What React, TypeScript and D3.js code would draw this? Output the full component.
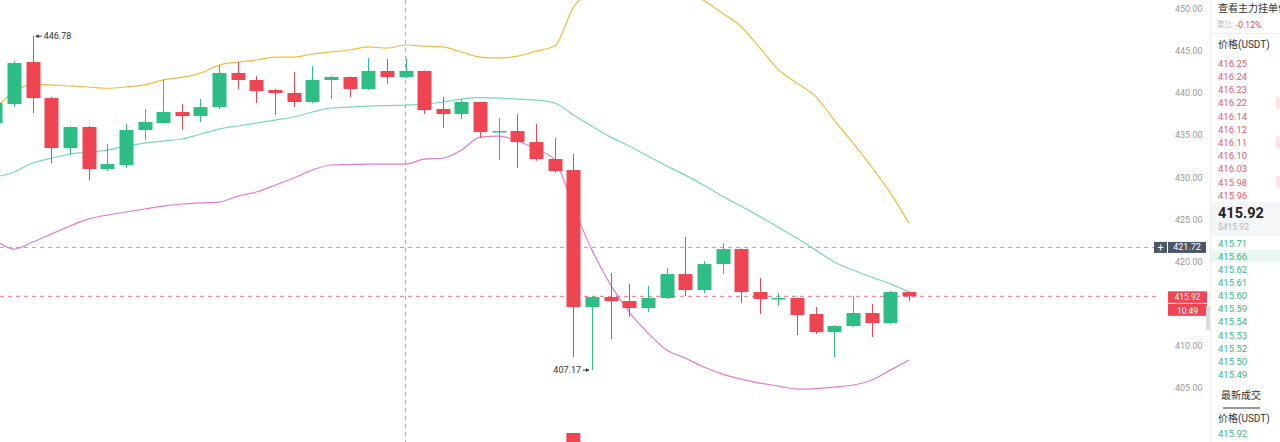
import React from "react";
import * as d3 from "d3";

// ---- candle data (index -1 .. 48) ----
const opens = [436.48, 438.73, 443.71, 439.44, 433.51, 436.0, 431.02, 431.49, 435.65, 436.48, 437.78, 437.31, 438.37, 442.41, 441.58, 440.39, 440.04, 438.97, 441.58, 441.93, 440.51, 442.65, 441.93, 442.65, 438.14, 437.54, 438.97, 435.41, 435.53, 434.22, 432.21, 430.9, 414.65, 415.84, 415.36, 414.53, 415.72, 418.56, 416.67, 419.75, 421.53, 416.43, 415.6, 415.72, 413.82, 411.68, 412.4, 413.94, 412.75, 416.43];
const closes = [438.85, 443.59, 439.44, 433.51, 436.0, 431.02, 431.61, 435.65, 436.6, 437.78, 437.31, 438.37, 442.41, 441.58, 440.27, 440.04, 438.97, 441.58, 441.93, 440.51, 442.65, 441.93, 442.65, 438.02, 437.54, 438.97, 435.41, 435.53, 434.22, 432.21, 430.78, 414.65, 415.84, 415.36, 414.53, 415.72, 418.56, 416.67, 419.75, 421.53, 416.43, 415.6, 415.72, 413.7, 411.68, 412.4, 413.94, 412.75, 416.43, 415.92];
const highs = [439.3, 443.83, 446.78, 439.6, 436.1, 436.1, 433.99, 436.36, 438.14, 441.58, 438.73, 439.32, 443.36, 443.71, 442.05, 440.51, 442.53, 443.24, 442.05, 442.0, 444.19, 444.07, 444.07, 442.7, 439.56, 439.32, 439.0, 437.07, 437.54, 436.36, 434.7, 432.8, 415.96, 418.68, 417.38, 417.14, 419.28, 422.95, 420.1, 422.24, 421.6, 418.09, 416.31, 415.8, 414.65, 412.5, 415.96, 415.0, 416.55, 416.5];
const lows = [436.0, 438.37, 437.66, 431.73, 432.68, 429.72, 430.78, 431.14, 434.46, 436.4, 435.65, 436.6, 438.14, 440.51, 438.85, 437.43, 438.37, 438.85, 439.32, 439.56, 440.4, 441.1, 441.8, 437.54, 435.88, 436.95, 434.7, 432.09, 431.14, 432.0, 430.6, 408.72, 407.17, 410.85, 413.46, 414.06, 415.6, 415.96, 416.31, 418.56, 415.12, 413.82, 414.77, 411.33, 411.45, 408.72, 412.3, 411.1, 412.6, 415.36];
const volumes = [1800, 2600, 3100, 2900, 2200, 2700, 1600, 2100, 1500, 1900, 1200, 1300, 2400, 1500, 1400, 1100, 1600, 1900, 1000, 1200, 1700, 1300, 1100, 2800, 1500, 1400, 2600, 1700, 2200, 2500, 2300, 12000, 5200, 3400, 2100, 1800, 2600, 3000, 2300, 2100, 3100, 1900, 1200, 2000, 2300, 2500, 1800, 1700, 2600, 900];

// ---- Bollinger bands ----
const upperBand = [438.26, 440.15, 441.1, 440.98, 440.87, 440.75, 440.6, 440.75, 441.0, 441.6, 441.9, 442.4, 443.35, 443.7, 443.95, 444.3, 444.3, 444.66, 444.9, 445.14, 445.5, 445.37, 445.73, 445.6, 445.5, 444.9, 444.3, 444.2, 444.4, 445.0, 445.6, 450.2, 452.3, 453.5, 454.0, 454.0, 453.5, 452.3, 451.0, 449.5, 447.9, 445.4, 442.8, 441.2, 439.6, 436.8, 434.1, 431.26, 428.2, 424.6];
const middleBand = [430.07, 430.66, 431.73, 432.3, 432.8, 433.04, 433.27, 433.75, 434.1, 434.34, 434.58, 435.17, 435.76, 436.12, 436.48, 436.83, 437.19, 437.78, 438.26, 438.37, 438.49, 438.55, 438.6, 438.73, 438.97, 439.32, 439.5, 439.44, 439.32, 439.2, 438.85, 437.43, 436.1, 434.8, 433.75, 432.56, 431.38, 430.3, 429.1, 427.8, 426.6, 425.4, 424.1, 422.8, 421.4, 420.0, 419.04, 418.2, 417.4, 416.43];
const lowerBand = [422.6, 421.53, 422.36, 423.3, 424.26, 425.1, 425.56, 425.92, 426.28, 426.63, 426.87, 427.0, 427.1, 427.8, 428.3, 429.1, 429.95, 430.9, 431.5, 431.55, 431.6, 431.6, 431.6, 432.2, 432.3, 433.27, 434.8, 434.93, 434.34, 433.4, 432.1, 426.5, 421.4, 417.26, 414.06, 411.57, 409.55, 408.6, 407.53, 406.7, 406.1, 405.63, 405.28, 404.92, 404.98, 405.16, 405.4, 406.0, 407.17, 408.36];

const yTicks = [405, 410, 415, 420, 425, 430, 435, 440, 445, 450];
const crosshairIndex = 21;
const crosshairPrice = 421.72;
const lastPrice = 415.92;
const countdown = "10:49";

// ---- order book panel ----
const askPrices = ["416.25", "416.24", "416.23", "416.22", "416.14", "416.12", "416.11", "416.10", "416.03", "415.98", "415.96"];
const bidPrices = ["415.71", "415.66", "415.62", "415.61", "415.60", "415.59", "415.54", "415.53", "415.52", "415.50", "415.49"];
const askDepthRows = [3, 6, 9];

const W = 1280;
const H = 442;
const GREEN = "#2ebd85";
const RED = "#ef4452";
const FONT = "Roboto, 'Noto Sans CJK SC', 'Noto Sans', sans-serif";

export default function App() {
  const idx = opens.map((_, i) => i - 1);
  const x = d3.scaleLinear().domain([-1, 48]).range([14 - 18.65, 909]);
  const y = d3.scaleLinear().domain([405, 450]).range([388.4, 9]);
  const yVol = d3.scaleLinear().domain([0, 12000]).range([560, 433]);
  const cw = 14;

  const mkLine = (arr: number[]) =>
    d3
      .line<number>()
      .x((_, i) => x(idx[i]))
      .y((v) => y(v))
      .curve(d3.curveMonotoneX)(arr) || "";

  const hiI = highs.indexOf(d3.max(highs) as number);
  const loI = lows.indexOf(d3.min(lows) as number);

  const askY = (i: number) => 63.3 + i * 13.2;
  const bidY = (i: number) => 243.3 + i * 13.1;
  const ly = y(lastPrice);

  return (
    <div style={{ position: "fixed", left: 0, top: 0, width: W, height: H, background: "#fff" }}>
      <svg width={W} height={H} style={{ display: "block", fontFamily: FONT }}>
        <defs>
          <clipPath id="plot">
            <rect x={0} y={0} width={1160} height={H} />
          </clipPath>
          <clipPath id="panel">
            <rect x={1211} y={0} width={69} height={H} />
          </clipPath>
        </defs>
        <rect x={0} y={0} width={W} height={H} fill="#fff" />

        <g clipPath="url(#plot)">
          {/* volume */}
          {idx.map((d, i) => (
            <rect
              key={"v" + i}
              x={x(d) - cw / 2}
              y={yVol(volumes[i])}
              width={cw}
              height={Math.max(0, 600 - yVol(volumes[i]))}
              fill={closes[i] >= opens[i] ? GREEN : RED}
            />
          ))}

          {/* crosshair */}
          <line x1={x(crosshairIndex)} x2={x(crosshairIndex)} y1={0} y2={H} stroke="#a8a8a8" strokeDasharray="4 4" strokeWidth={1} />
          <line x1={0} x2={1154} y1={y(crosshairPrice)} y2={y(crosshairPrice)} stroke="#a8a8a8" strokeDasharray="4 4" strokeWidth={1} />
          {/* last price line */}
          <line x1={0} x2={1168} y1={ly} y2={ly} stroke={RED} strokeOpacity={0.75} strokeDasharray="4 4" strokeWidth={1} />

          {/* bands */}
          <path d={mkLine(upperBand)} fill="none" stroke="#f6bb3e" strokeWidth={1.2} />
          <path d={mkLine(middleBand)} fill="none" stroke="#76d8c0" strokeWidth={1.2} />
          <path d={mkLine(lowerBand)} fill="none" stroke="#e57acb" strokeWidth={1.2} />

          {/* candles */}
          {idx.map((d, i) => {
            const up = closes[i] >= opens[i];
            const c = up ? GREEN : RED;
            const top = y(Math.max(opens[i], closes[i]));
            const bot = y(Math.min(opens[i], closes[i]));
            const cx = Math.round(x(d)) + 0.5;
            return (
              <g key={"c" + i}>
                <line x1={cx} x2={cx} y1={y(highs[i])} y2={y(lows[i])} stroke={c} strokeWidth={1} />
                <rect x={cx - cw / 2} y={top} width={cw} height={Math.max(1.5, bot - top)} fill={c} />
              </g>
            );
          })}

          {/* high / low marks */}
          <g fontSize={9} fill="#333">
            <line x1={x(idx[hiI]) + 3} x2={x(idx[hiI]) + 9} y1={y(highs[hiI])} y2={y(highs[hiI])} stroke="#333" strokeWidth={1} />
            <path d={`M${x(idx[hiI]) + 3},${y(highs[hiI])} l3,-2 v4 z`} fill="#333" />
            <text x={x(idx[hiI]) + 11} y={y(highs[hiI])} dominantBaseline="central">{highs[hiI].toFixed(2)}</text>
            <line x1={x(idx[loI]) - 9} x2={x(idx[loI]) - 3} y1={y(lows[loI])} y2={y(lows[loI])} stroke="#333" strokeWidth={1} />
            <path d={`M${x(idx[loI]) - 3},${y(lows[loI])} l-3,-2 v4 z`} fill="#333" />
            <text x={x(idx[loI]) - 11} y={y(lows[loI])} textAnchor="end" dominantBaseline="central">{lows[loI].toFixed(2)}</text>
          </g>
        </g>

        {/* y axis labels */}
        <g fontSize={9} fill="#9a9a9a">
          {yTicks.map((t) => (
            <text key={t} x={1175} y={y(t)} dominantBaseline="central">{t.toFixed(2)}</text>
          ))}
        </g>

        {/* crosshair label */}
        <rect x={1154} y={y(crosshairPrice) - 5.5} width={13} height={11} fill="#4d5664" />
        <text x={1160.5} y={y(crosshairPrice)} fill="#fff" fontSize={11} textAnchor="middle" dominantBaseline="central">+</text>
        <rect x={1168} y={y(crosshairPrice) - 5.5} width={38} height={11} fill="#4d5664" />
        <text x={1187} y={y(crosshairPrice)} fill="#fff" fontSize={9} textAnchor="middle" dominantBaseline="central">{crosshairPrice.toFixed(2)}</text>

        {/* last price label */}
        <rect x={1168} y={ly - 5} width={39} height={11.5} fill={RED} />
        <text x={1187.5} y={ly + 3.6} fill="#fff" fontSize={8.5} textAnchor="middle">{lastPrice.toFixed(2)}</text>
        <rect x={1168} y={ly + 7.5} width={39} height={12} fill={RED} />
        <text x={1187.5} y={ly + 17.2} fill="#fff" fontSize={8.5} textAnchor="middle">{countdown}</text>
        <rect x={1206} y={306} width={4} height={24} fill="#dcdcdc" rx={1} />

        {/* order book panel */}
        <rect x={1210} y={0} width={70} height={H} fill="#fff" />
        <line x1={1210.5} x2={1210.5} y1={0} y2={H} stroke="#f0f0f0" />
        <g clipPath="url(#panel)">
          <text x={1218} y={8} fontSize={10} fill="#333" dominantBaseline="central">查看主力挂单信息</text>
        </g>
        <text x={1217} y={24.5} fontSize={7.5} fill="#c2c2c2" dominantBaseline="central">委比:</text>
        <text x={1236} y={24.5} fontSize={8.5} fill={RED} dominantBaseline="central">-0.12%</text>
        <line x1={1211} x2={1280} y1={33.5} y2={33.5} stroke="#eeeeee" />
        <text x={1218} y={44.5} fontSize={10} fill="#333" dominantBaseline="central">价格(USDT)</text>

        {askDepthRows.map((r) => (
          <rect key={"ad" + r} x={1276} y={askY(r) - 6} width={4} height={12} fill="#fbe3e6" />
        ))}
        {askPrices.map((p, i) => (
          <text key={"a" + i} x={1218} y={askY(i)} fontSize={9.5} fill="#eb5a6f" dominantBaseline="central">{p}</text>
        ))}

        <rect x={1211} y={202} width={69} height={34} fill="#f5f6f7" />
        <text x={1218} y={213} fontSize={14.5} fontWeight={700} fill="#1e2329" dominantBaseline="central">{lastPrice.toFixed(2)}</text>
        <text x={1218} y={227} fontSize={8.5} fill="#b5b5b5" dominantBaseline="central">${lastPrice.toFixed(2)}</text>

        <rect x={1211} y={250} width={69} height={12.5} fill="#eaf7f2" />
        {bidPrices.map((p, i) => (
          <text key={"b" + i} x={1218} y={bidY(i)} fontSize={9.5} fill="#35b98f" dominantBaseline="central">{p}</text>
        ))}

        <text x={1241} y={395.5} fontSize={10} fill="#333" textAnchor="middle" dominantBaseline="central">最新成交</text>
        <line x1={1223} x2={1260} y1={408} y2={408} stroke="#333" strokeWidth={1} />
        <text x={1218} y={418.5} fontSize={10} fill="#333" dominantBaseline="central">价格(USDT)</text>
        <text x={1218} y={433.5} fontSize={9.5} fill="#35b98f" dominantBaseline="central">{lastPrice.toFixed(2)}</text>
      </svg>
    </div>
  );
}
